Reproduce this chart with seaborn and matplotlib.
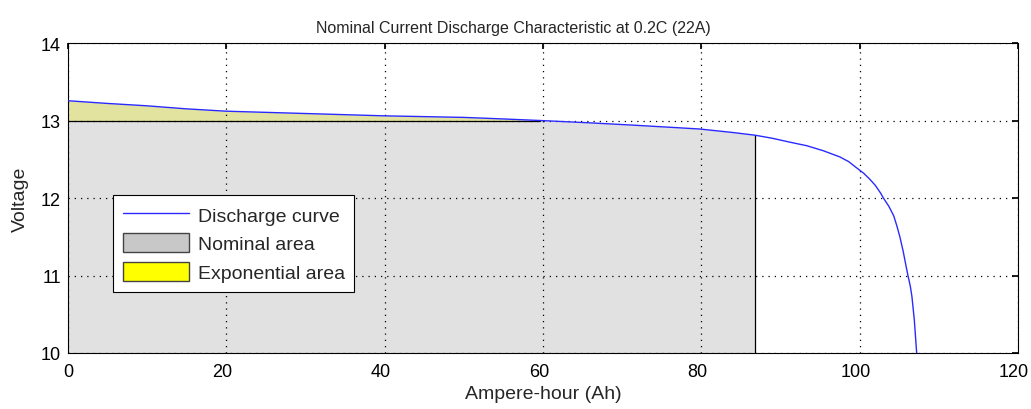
import numpy as np
import pandas as pd
import matplotlib
matplotlib.use("Agg")
import matplotlib.pyplot as plt
import matplotlib.transforms as mtrans
from matplotlib import font_manager
import seaborn as sns
from matplotlib.patches import Patch
from matplotlib.lines import Line2D

# Data
ampere_hour = [0, 5, 9.9, 15, 20, 30, 40, 50, 55, 59.6, 65.9, 71.4, 76.5, 79.8, 84.0,
               86.8, 89.0, 91.2, 93.3, 95.4, 97.5, 98.6, 99.6, 100.5, 101.3, 102.0, 102.6,
               103.0, 103.7, 104.3, 104.7, 105.1, 105.5, 105.9, 106.1, 106.4, 106.6,
               106.9, 107.2]
voltage = [13.255, 13.22, 13.19, 13.15, 13.12, 13.09, 13.06, 13.04, 13.02, 13.00, 12.97,
           12.94, 12.91, 12.89, 12.845, 12.81, 12.77, 12.72, 12.675, 12.61, 12.53, 12.47,
           12.39, 12.32, 12.24, 12.16, 12.07, 12.00, 11.89, 11.77, 11.64, 11.49, 11.31,
           11.10, 11.00, 10.86, 10.73, 10.43, 10.00]
nominal_ah = 86.8
nominal_v = 13.0
exp_end_ah = 59.6
title = "Nominal Current Discharge Characteristic at 0.2C (22A)"
legend_labels = ["Discharge curve", "Nominal area", "Exponential area"]

sns.set_theme(style="white")
plt.rcParams['font.family'] = ['Liberation Sans', 'DejaVu Sans']

installed = {f.name for f in font_manager.fontManager.ttflist}
if "Liberation Sans Narrow" in installed:
    title_font, title_size = ["Liberation Sans Narrow", "Liberation Sans"], 13.5
else:
    title_font, title_size = ["Liberation Sans", "DejaVu Sans"], 11.5

df = pd.DataFrame({"Ah": ampere_hour, "V": voltage})

fig = plt.figure(figsize=(10.31, 4.10), dpi=100)
ax = fig.add_axes([68/1031, 56/410, 950/1031, 310/410])

# fills follow the curve's own line segments
xs = np.linspace(0, max(ampere_hour), 1000)
ys = np.interp(xs, ampere_hour, voltage)

m = xs <= nominal_ah
ax.fill_between(xs[m], 10, np.minimum(ys[m], nominal_v), color="#e1e1e1", lw=0, zorder=1)
ax.plot([nominal_ah, nominal_ah], [10, np.interp(nominal_ah, ampere_hour, voltage)],
        color="black", lw=0.9, zorder=3)
m2 = xs <= exp_end_ah
ax.fill_between(xs[m2], nominal_v, ys[m2], color="#e3e3a0", lw=0, zorder=1)
ax.plot([0, exp_end_ah], [nominal_v, nominal_v], color="black", lw=0.9, zorder=3)

sns.lineplot(data=df, x="Ah", y="V", ax=ax, color="#2a2aff", lw=1.0, zorder=4)

ax.set_xlim(0, 120)
ax.set_ylim(10, 14)
ax.set_xticks([0, 20, 40, 60, 80, 100, 120])
ax.set_yticks([10, 11, 12, 13, 14])
ax.grid(True, color="black", linestyle=(0, (1, 4)), lw=0.9)
ax.set_axisbelow(False)
for s in ax.spines.values():
    s.set_color("black")
    s.set_linewidth(0.8)
ax.tick_params(direction="in", length=4, top=True, right=True, labelsize=13,
               colors="black")
ax.tick_params(axis="x", pad=7)
ax.tick_params(axis="y", pad=5)
shift = mtrans.ScaledTranslation(-4/100, 0, fig.dpi_scale_trans)
for lab in ax.get_xticklabels()[1:]:
    lab.set_transform(lab.get_transform() + shift)
ax.set_xlabel("Ampere-hour (Ah)", fontsize=14, labelpad=4)
ax.set_ylabel("Voltage", fontsize=14, labelpad=9)
ax.set_title(title, fontsize=title_size, family=title_font, pad=8, x=(513 - 68) / 950)

handles = [Line2D([0], [0], color="#2a2aff", lw=1.0),
           Patch(facecolor="#c8c8c8", edgecolor="#444444"),
           Patch(facecolor="#ffff00", edgecolor="#444444")]
leg = ax.legend(handles, legend_labels, loc="upper left", bbox_to_anchor=(45/950, 158/310),
                frameon=True, fancybox=False, fontsize=14, handlelength=3.4, handleheight=1.1,
                borderpad=0.5, labelspacing=0.45, handletextpad=0.45, borderaxespad=0)
leg.get_frame().set_edgecolor("black")
leg.get_frame().set_linewidth(0.8)
leg.get_frame().set_alpha(1)

fig.savefig("out.png", dpi=100)
